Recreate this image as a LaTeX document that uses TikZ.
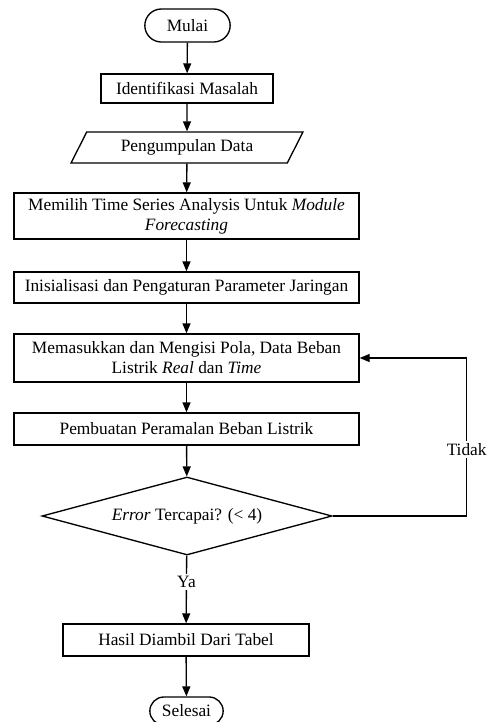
\documentclass[tikz,border=0pt]{standalone}
\usepackage{fontspec}
\setmainfont{Liberation Serif}
\usetikzlibrary{shapes.geometric, shapes.misc, arrows.meta}

\begin{document}
\begin{tikzpicture}[
    x=0.75pt, y=0.75pt,
    font=\fontsize{13}{15}\selectfont,
    procbox/.style={rectangle, draw, line width=1pt, align=center, inner sep=2pt},
    widebox/.style={procbox, minimum width=258.75pt},
    termbox/.style={rounded rectangle, draw, line width=1pt, minimum height=24.75pt, inner sep=2pt},
    iobox/.style={trapezium, trapezium left angle=66, trapezium right angle=114, trapezium stretches=true, draw, line width=1pt, minimum width=174pt, minimum height=23.25pt},
    decbox/.style={diamond, draw, line width=1pt, aspect=3.7, inner sep=0pt, minimum width=217.5pt, minimum height=58.5pt},
    answer/.style={fill=white, inner sep=2pt},
    arrow/.style={->, >={Triangle[length=7.5pt, width=6pt]}, line width=1pt}
]
\useasboundingbox (0,0) rectangle (493,-722);

% Start
\node[termbox, minimum width=68pt] (mulai) at (187.5,-25.5) {Mulai};

% Steps
\node[procbox, minimum width=129pt, minimum height=21.75pt] (identifikasi) at (187,-88.5) {Identifikasi Masalah};
\node[iobox] (data) at (187,-147.5) {Pengumpulan Data};
\node[widebox, minimum height=34.5pt] (metode) at (186.5,-216) {Memilih Time Series Analysis Untuk \textit{Module}\\\textit{Forecasting}};
\node[widebox, minimum height=23.25pt] (inisialisasi) at (186.5,-287.5) {Inisialisasi dan Pengaturan Parameter Jaringan};
\node[widebox, minimum height=36pt] (pola) at (186.5,-358) {Memasukkan dan Mengisi Pola, Data Beban\\Listrik \textit{Real} dan \textit{Time}};
\node[widebox, minimum height=24pt] (ramal) at (186.5,-429) {Pembuatan Peramalan Beban Listrik};

% Decision
\node[decbox] (error) at (187,-516) {\textit{Error} Tercapai? (< 4)};

% Result and end
\node[procbox, minimum width=184.5pt, minimum height=24pt] (hasil) at (186,-640) {Hasil Diambil Dari Tabel};
\node[termbox, minimum width=59pt, minimum height=21pt] (selesai) at (186.5,-711) {Selesai};

% Arrows
\draw[arrow] (mulai) -- (identifikasi);
\draw[arrow] (identifikasi) -- (data);
\draw[arrow] (data) -- (metode);
\draw[arrow] (metode) -- (inisialisasi);
\draw[arrow] (inisialisasi) -- (pola);
\draw[arrow] (pola) -- (ramal);
\draw[arrow] (ramal) -- (error);
\draw[arrow] (error) -- node[answer, pos=0.39] {Ya} (hasil);
\draw[arrow] (hasil) -- (selesai);
\draw[arrow] (error.east) -- ++(134,0) |- node[answer, pos=0.21] {Tidak} (pola.east);

\end{tikzpicture}
\end{document}
